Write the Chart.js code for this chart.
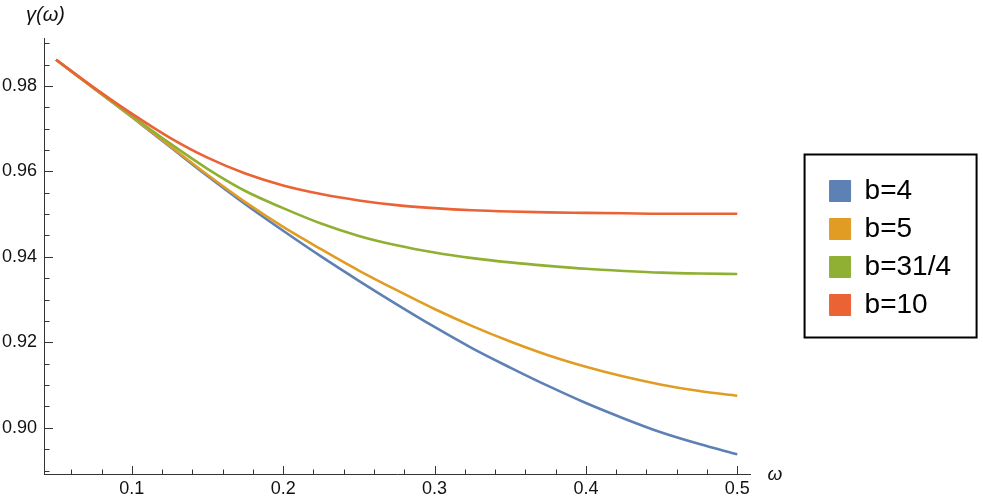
<!DOCTYPE html>
<html>
<head>
<meta charset="utf-8">
<script src="https://cdn.jsdelivr.net/npm/chart.js@4.4.1/dist/chart.umd.min.js"></script>
<style>
  html, body { margin: 0; padding: 0; background: #fff; }
</style>
</head>
<body>
<canvas id="gamma-chart" width="983" height="502"></canvas>
<script>
// omega samples and gamma(omega)
var omega = [0.05, 0.075, 0.1, 0.125, 0.15, 0.175, 0.2, 0.225, 0.25, 0.275,
             0.3, 0.325, 0.35, 0.375, 0.4, 0.425, 0.45, 0.475, 0.5];
var gamma_b4  = [0.9861, 0.9794, 0.9727, 0.9658, 0.9589, 0.9523, 0.9461, 0.9401, 0.9344, 0.9289,
                 0.9236, 0.9186, 0.9141, 0.9098, 0.9058, 0.9022, 0.8989, 0.8962, 0.8938];
var gamma_b5  = [0.9861, 0.9794, 0.9728, 0.9660, 0.9592, 0.9528, 0.9470, 0.9418, 0.9368, 0.9322,
                 0.9278, 0.9238, 0.9202, 0.9170, 0.9143, 0.9120, 0.9101, 0.9086, 0.9075];
var gamma_b31 = [0.9861, 0.9795, 0.9730, 0.9666, 0.9606, 0.9554, 0.9514, 0.9478, 0.9449, 0.9427,
                 0.9410, 0.9397, 0.9387, 0.9379, 0.9372, 0.9367, 0.9363, 0.9361, 0.9360];
var gamma_b10 = [0.9861, 0.9796, 0.9735, 0.9679, 0.9632, 0.9595, 0.9567, 0.9547, 0.9532, 0.9521,
                 0.9514, 0.9509, 0.9506, 0.9504, 0.9503, 0.9502, 0.9501, 0.9501, 0.9501];

var seriesLabels = ['b=4', 'b=5', 'b=31/4', 'b=10'];
var seriesColors = ['#5E81B5', '#E19C24', '#8FB032', '#EB6235'];

var xTicks = [0.1, 0.2, 0.3, 0.4, 0.5];
var xTickLabels = ['0.1', '0.2', '0.3', '0.4', '0.5'];
var yTicks = [0.90, 0.92, 0.94, 0.96, 0.98];
var yTickLabels = ['0.90', '0.92', '0.94', '0.96', '0.98'];

function points(ys) {
    return omega.map(function(x, i) { return { x: x, y: ys[i] }; });
}

var allSeries = [gamma_b4, gamma_b5, gamma_b31, gamma_b10];
var datasets = allSeries.map(function(ys, i) {
    return {
        label: seriesLabels[i],
        data: points(ys),
        borderColor: seriesColors[i],
        backgroundColor: seriesColors[i],
        borderWidth: 2.6,
        pointRadius: 0,
        fill: false,
        cubicInterpolationMode: 'monotone',
        order: allSeries.length - i  // b=10 drawn on top
    };
});

// inward tick marks, axis names and the legend frame
var axisDecor = {
    id: 'axisDecor',
    afterDraw: function(chart) {
        var c = chart.ctx, a = chart.chartArea;
        var xs = chart.scales.x, ys = chart.scales.y;
        c.save();
        c.strokeStyle = '#333';
        c.lineWidth = 1;
        c.beginPath();
        for (var i = 178; i <= 198; i++) {
            var py = Math.round(ys.getPixelForValue(i * 0.005)) + 0.5;
            if (py < a.top || py > a.bottom) continue;
            var len = (i % 4 === 0) ? 9 : 5.5;
            c.moveTo(a.left, py);
            c.lineTo(a.left + len, py);
        }
        for (var j = 2; j <= 25; j++) {
            var px = Math.round(xs.getPixelForValue(j * 0.02)) + 0.5;
            if (px < a.left + 1 || px > a.right) continue;
            var l2 = (j % 5 === 0) ? 8 : 4.5;
            c.moveTo(px, a.bottom);
            c.lineTo(px, a.bottom - l2);
        }
        c.stroke();

        c.fillStyle = '#111';
        c.textBaseline = 'alphabetic';
        c.textAlign = 'left';
        c.font = 'italic 20px "Liberation Sans"';
        c.fillText('γ(ω)', 26, 21);
        c.font = 'italic 19px "Liberation Sans"';
        c.fillText('ω', a.right + 17, a.bottom + 6);

        var hb = chart.legend && chart.legend.legendHitBoxes;
        if (hb && hb.length) {
            var top = hb[0].top - 22.5;
            var bot = hb[hb.length - 1].top + 46.5;
            c.lineWidth = 2;
            c.strokeStyle = '#000';
            c.strokeRect(hb[0].left - 25, top, 172, bot - top);
        }
        c.restore();
    }
};

var tickFont = { family: 'Liberation Sans', size: 18 };

new Chart(document.getElementById('gamma-chart'), {
    type: 'line',
    data: { datasets: datasets },
    options: {
        responsive: false,
        animation: false,
        layout: { padding: { left: 0, top: 0, right: 22, bottom: 6 } },
        plugins: {
            tooltip: { enabled: false },
            legend: {
                position: 'right',
                labels: {
                    boxWidth: 21,
                    boxHeight: 21,
                    padding: 10,
                    color: '#000',
                    font: { family: 'Liberation Sans', size: 28 },
                    sort: function(a, b) { return a.datasetIndex - b.datasetIndex; },
                    generateLabels: function(chart) {
                        var items = Chart.defaults.plugins.legend.labels.generateLabels(chart);
                        items.forEach(function(it) { it.lineWidth = 1; });
                        return items;
                    }
                }
            }
        },
        scales: {
            x: {
                type: 'linear',
                position: 'bottom',
                min: 0.042,
                max: 0.5088,
                afterBuildTicks: function(s) { s.ticks = xTicks.map(function(v) { return { value: v }; }); },
                afterFit: function(s) { s.height = 22; },
                ticks: {
                    autoSkip: false,
                    maxRotation: 0,
                    padding: 4,
                    color: '#111',
                    font: tickFont,
                    callback: function(v, i) { return xTickLabels[i]; }
                },
                grid: { display: false, drawTicks: false },
                border: { display: true, color: '#333', width: 1 }
            },
            y: {
                type: 'linear',
                position: 'left',
                min: 0.8892,
                max: 0.9912,
                afterBuildTicks: function(s) { s.ticks = yTicks.map(function(v) { return { value: v }; }); },
                afterFit: function(s) { s.width = 44; },
                ticks: {
                    autoSkip: false,
                    padding: 7,
                    color: '#111',
                    font: tickFont,
                    callback: function(v, i) { return yTickLabels[i]; }
                },
                grid: { display: false, drawTicks: false },
                border: { display: true, color: '#333', width: 1 }
            },
            gapTop: {
                type: 'linear',
                axis: 'x',
                position: 'top',
                ticks: { display: false },
                grid: { display: false, drawTicks: false },
                border: { display: false },
                afterFit: function(s) { s.height = 38; }
            },
            gapRight: {
                type: 'linear',
                axis: 'y',
                position: 'right',
                ticks: { display: false },
                grid: { display: false, drawTicks: false },
                border: { display: false },
                afterFit: function(s) { s.width = 69; }
            }
        }
    },
    plugins: [axisDecor]
});
</script>
</body>
</html>
